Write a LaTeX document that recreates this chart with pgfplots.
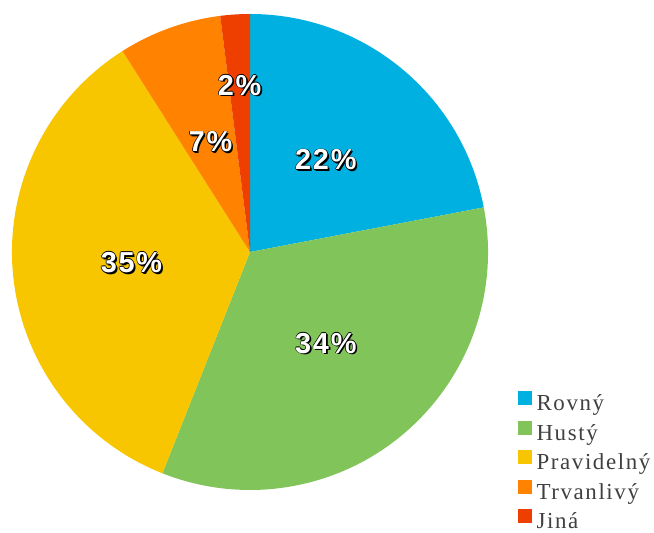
\documentclass[border=0pt]{standalone}
\usepackage{pgfplots}
\pgfplotsset{compat=1.18}
\usepackage{fontspec}
\setmainfont{Liberation Serif}[LetterSpace=7]
\newfontfamily\labelfont{Liberation Sans}[LetterSpace=6]

\definecolor{cRovny}{HTML}{00B0E0}
\definecolor{cHusty}{HTML}{80C45A}
\definecolor{cPrav}{HTML}{F8C600}
\definecolor{cTrv}{HTML}{FF8200}
\definecolor{cJina}{HTML}{EE3F00}
\definecolor{legtext}{HTML}{404040}

% pie centre and radius, in the axis' pixel units
\def\cx{250}\def\cy{281}\def\R{238}

% slice: cumulative start (%), value (%), colour
\newcommand\slice[3]{%
  \fill[#3, overlay] (axis cs:\cx,\cy) -- ++({90-3.6*#1}:\R bp)
    arc[start angle={90-3.6*#1}, end angle={90-3.6*(#1+#2)}, radius=\R bp] -- cycle;}

\newcommand\shadowtext[1]{%
  \rlap{\kern1.7bp\raisebox{-1.7bp}{\color{black}#1}}%
  \rlap{\kern0.7bp\color{black}#1}\rlap{\kern-0.7bp\color{black}#1}%
  \rlap{\raisebox{0.7bp}{\color{black}#1}}\rlap{\raisebox{-0.7bp}{\color{black}#1}}%
  {\color{white}#1}}

% label: cumulative start, value, radius fraction
\newcommand\pielabel[3]{%
  \path (axis cs:\cx,\cy) ++({90-3.6*(#1+#2/2)}:{#3*\R bp})
    node[inner sep=0pt, font=\labelfont\fontsize{29}{29}\selectfont\bfseries] {\shadowtext{#2\%}};}

\newcommand\legsq[1]{\addlegendimage{legend image code/.code={%
  \fill[#1] (0bp,-1bp) rectangle (13bp,12bp); \path (16bp,0bp);}}}

\begin{document}
\begin{tikzpicture}
\begin{axis}[
  scale only axis, width=654bp, height=533bp,
  xmin=0, xmax=654, ymin=0, ymax=533,
  hide axis, clip=false,
  legend style={at={(axis cs:518,142)}, anchor=north west, draw=none, fill=none,
    font=\fontsize{23}{23}\selectfont\color{legtext}, inner sep=0pt,
    row sep=6.6bp, /tikz/every even column/.append style={column sep=0bp}},
  legend cell align=left,
]
\path (axis cs:0,0) rectangle (axis cs:654,533);
% start, value, colour
\slice{0}{22}{cRovny}
\slice{22}{34}{cHusty}
\slice{56}{35}{cPrav}
\slice{91}{7}{cTrv}
\slice{98}{2}{cJina}

\pielabel{0}{22}{0.5}
\pielabel{22}{34}{0.5}
\pielabel{56}{35}{0.5}
\pielabel{91}{7}{0.49}
\pielabel{98}{2}{0.7}

\legsq{cRovny}\addlegendentry{Rovný}
\legsq{cHusty}\addlegendentry{Hustý}
\legsq{cPrav}\addlegendentry{Pravidelný}
\legsq{cTrv}\addlegendentry{Trvanlivý}
\legsq{cJina}\addlegendentry{Jiná}
\end{axis}
\end{tikzpicture}
\end{document}
